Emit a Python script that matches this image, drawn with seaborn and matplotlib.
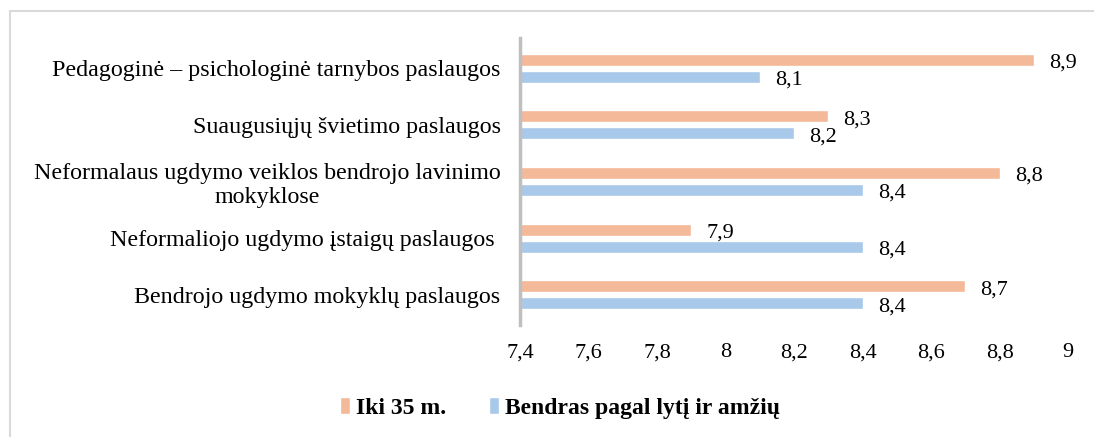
import matplotlib
matplotlib.use("Agg")
import matplotlib.pyplot as plt
import seaborn as sns
import pandas as pd
from matplotlib.lines import Line2D

categories = [
    "Pedagoginė – psichologinė tarnybos paslaugos",
    "Suaugusiųjų švietimo paslaugos",
    "Neformalaus ugdymo veiklos bendrojo lavinimo\nmokyklose",
    "Neformaliojo ugdymo įstaigų paslaugos ",
    "Bendrojo ugdymo mokyklų paslaugos",
]
series_names = ["Iki 35 m.", "Bendras pagal lytį ir amžių"]
iki35 = [8.9, 8.3, 8.8, 7.9, 8.7]
bendras = [8.1, 8.2, 8.4, 8.4, 8.4]
xticks = [7.4, 7.6, 7.8, 8.0, 8.2, 8.4, 8.6, 8.8, 9.0]
xtick_labels = ["7,4", "7,6", "7,8", "8", "8,2", "8,4", "8,6", "8,8", "9"]

df = pd.DataFrame({
    "cat": categories * 2,
    "series": [series_names[0]] * 5 + [series_names[1]] * 5,
    "value": iki35 + bendras,
})

sns.set_theme(style="white")
plt.rcParams["font.family"] = ["Liberation Serif", "DejaVu Serif"]
plt.rcParams["text.color"] = "black"
plt.rcParams["xtick.color"] = "black"
plt.rcParams["ytick.color"] = "black"

fig = plt.figure(figsize=(10.94, 4.37), dpi=100)
ax = fig.add_axes([520 / 1094, 1 - 325 / 437, 548 / 1094, 287 / 437])

palette = {series_names[0]: "#F4B998", series_names[1]: "#A9C9EA"}
sns.barplot(data=df, y="cat", x="value", hue="series", orient="h",
            palette=palette, width=0.6, gap=0.3, ax=ax, legend=True,
            saturation=1)

ax.set_xlim(7.4, 9.0)
ax.set_ylim(4.53, -0.53)
ax.set_xticks(xticks)
ax.set_xticklabels(xtick_labels, fontsize=16)
ax.tick_params(axis="y", labelsize=17.3, length=0, pad=14, labelcolor="black")
ax.tick_params(axis="x", length=0, pad=13, labelcolor="black")
for lbl in ax.get_yticklabels():
    lbl.set_multialignment("center")
ax.set_xlabel("")
ax.set_ylabel("")
for s in ["top", "right", "bottom"]:
    ax.spines[s].set_visible(False)
ax.spines["left"].set_color("#BFBFBF")
ax.spines["left"].set_linewidth(2.5)
ax.grid(False)

for cont in ax.containers:
    for rect in cont:
        w = rect.get_width()
        y = rect.get_y() + rect.get_height() / 2
        ax.annotate(f"{w:.1f}".replace(".", ","), xy=(w, y),
                    xytext=(11, -2.5), textcoords="offset points",
                    ha="left", va="center", fontsize=16, color="black")

handles, labels = ax.get_legend_handles_labels()
ax.legend_.remove()
fig.legend(handles, labels, loc="center", bbox_to_anchor=(560 / 1094, 1 - 408 / 437),
           ncol=2, frameon=False, handlelength=0.45, handleheight=0.75,
           handletextpad=0.25, columnspacing=1.8,
           prop={"weight": "bold", "size": 17})

fig.add_artist(Line2D([10 / 1094, 1], [1 - 11 / 437, 1 - 11 / 437],
                      transform=fig.transFigure, color="#D9D9D9", linewidth=1.5))
fig.add_artist(Line2D([10 / 1094, 10 / 1094], [0, 1 - 11 / 437],
                      transform=fig.transFigure, color="#D9D9D9", linewidth=1.5))

fig.savefig("out.png", dpi=100)
